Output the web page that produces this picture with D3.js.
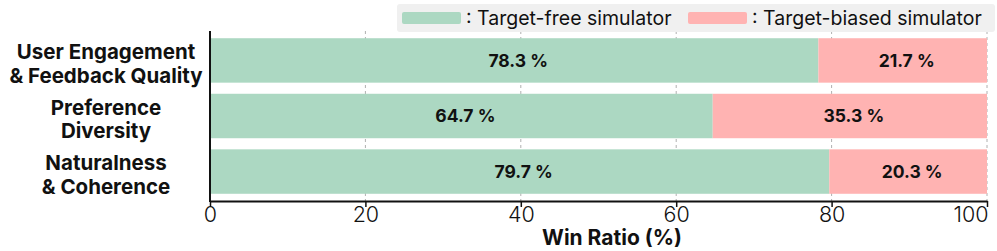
<!DOCTYPE html>
<html>
<head>
<meta charset="utf-8">
<script src="https://d3js.org/d3.v7.min.js"></script>
<style>
  body { margin: 0; background: #fff; }
  text { font-family: Inter, "Noto Sans", sans-serif; }
</style>
</head>
<body>
<div id="viz"></div>
<script>
// data
const categories = [
  ["User Engagement", "& Feedback Quality"],
  ["Preference", "Diversity"],
  ["Naturalness", "& Coherence"]
];
const targetFree = [78.3, 64.7, 79.7];
const targetBiased = [21.7, 35.3, 20.3];
const seriesNames = ["Target-free simulator", "Target-biased simulator"];
const xTicks = [0, 20, 40, 60, 80, 100];

const W = 997, H = 251;
const colors = ["#acd8c2", "#ffb3b2"];

const svg = d3.select("#viz").append("svg")
  .attr("width", W).attr("height", H);

const x = d3.scaleLinear().domain([0, 100]).range([210, 987]);
const y = d3.scaleBand().domain(d3.range(categories.length))
  .range([31, 201]).paddingInner(0.2).paddingOuter(0.13);

// grid
svg.append("g").selectAll("line")
  .data(xTicks.slice(1))
  .join("line")
  .attr("x1", d => x(d)).attr("x2", d => x(d))
  .attr("y1", 31).attr("y2", 201)
  .attr("stroke", "#b0b0b0").attr("stroke-width", 1)
  .attr("stroke-dasharray", "3,3");

// bars
const rows = categories.map((c, i) => ({i, a: targetFree[i], b: targetBiased[i]}));

svg.append("g").selectAll("rect.a")
  .data(rows).join("rect")
  .attr("x", x(0)).attr("y", d => y(d.i))
  .attr("width", d => x(d.a) - x(0)).attr("height", y.bandwidth())
  .attr("fill", colors[0]);

svg.append("g").selectAll("rect.b")
  .data(rows).join("rect")
  .attr("x", d => x(d.a)).attr("y", d => y(d.i))
  .attr("width", d => x(d.a + d.b) - x(d.a)).attr("height", y.bandwidth())
  .attr("fill", colors[1]);

// value labels
const lab = svg.append("g").attr("font-weight", 700).attr("font-size", 17.5)
  .attr("text-anchor", "middle").attr("fill", "#111");
lab.selectAll("text.a").data(rows).join("text")
  .attr("x", d => x(d.a / 2) + 4).attr("y", d => y(d.i) + y.bandwidth() / 2)
  .attr("dy", "0.36em").text(d => d.a.toFixed(1) + " %");
lab.selectAll("text.b").data(rows).join("text")
  .attr("x", d => x(d.a + d.b / 2) + 4).attr("y", d => y(d.i) + y.bandwidth() / 2)
  .attr("dy", "0.36em").text(d => d.b.toFixed(1) + " %");

// x axis
const xAxis = svg.append("g")
  .attr("transform", "translate(0,201)")
  .call(d3.axisBottom(x).tickValues(xTicks).tickSize(6).tickSizeOuter(0).tickPadding(0));
xAxis.select(".domain").attr("stroke", "#111").attr("stroke-width", 2);
xAxis.selectAll(".tick line").attr("stroke", "#111").attr("stroke-width", 1.5);
xAxis.selectAll(".tick text")
  .attr("font-family", "Inter, sans-serif")
  .attr("font-size", 21.5).attr("font-weight", 300).attr("fill", "#111");
xAxis.selectAll(".tick text").filter(d => d === 100)
  .attr("text-anchor", "end").attr("x", 1);

// y axis line
svg.append("line")
  .attr("x1", x(0)).attr("x2", x(0)).attr("y1", 31).attr("y2", 202)
  .attr("stroke", "#111").attr("stroke-width", 2);

// category labels
const cat = svg.append("g").attr("font-weight", 700).attr("font-size", 20.5)
  .attr("text-anchor", "middle").attr("fill", "#111");
categories.forEach((lines, i) => {
  const cy = y(i) + y.bandwidth() / 2 + 3;
  const t = cat.append("text").attr("x", 106).attr("y", cy);
  lines.forEach((s, k) => {
    t.append("tspan").attr("x", 106)
      .attr("y", cy + (k - (lines.length - 1) / 2) * 23.5)
      .attr("dy", "0.36em").text(s);
  });
});

// axis title
svg.append("text")
  .attr("x", 612).attr("y", 245)
  .attr("text-anchor", "middle").attr("font-weight", 700).attr("font-size", 21)
  .attr("fill", "#111").text("Win Ratio (%)");

// legend
const leg = svg.append("g");
leg.append("rect")
  .attr("x", 397).attr("y", 4).attr("width", 598).attr("height", 28)
  .attr("rx", 3).attr("fill", "#f0f0f0");
const legX = [402, 688];
seriesNames.forEach((name, i) => {
  leg.append("rect")
    .attr("x", legX[i]).attr("y", 12).attr("width", 59).attr("height", 12)
    .attr("rx", 2).attr("fill", colors[i]);
  leg.append("text")
    .attr("x", legX[i] + 64).attr("y", 18).attr("dy", "0.36em")
    .attr("font-size", 19.5).attr("fill", "#111")
    .text(": " + name);
});
</script>
</body>
</html>
